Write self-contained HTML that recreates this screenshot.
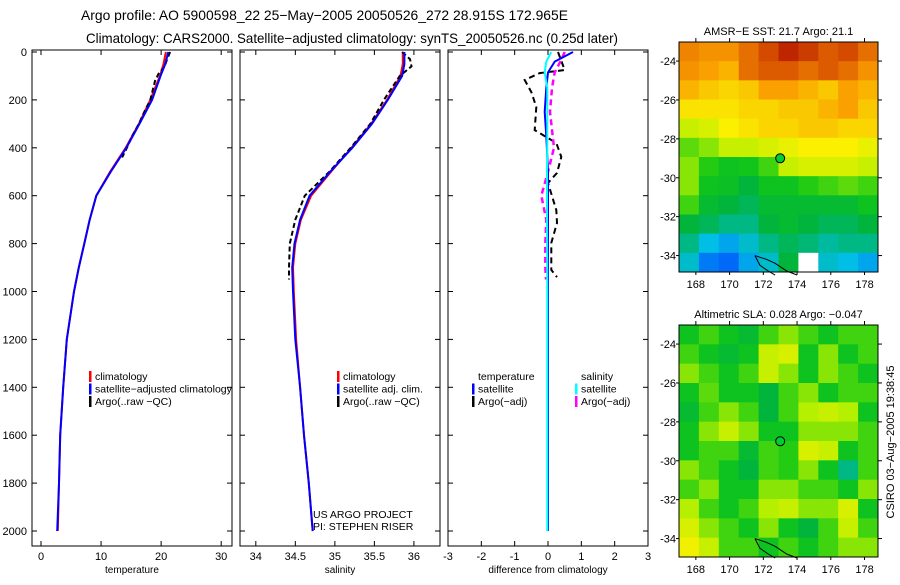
<!DOCTYPE html>
<html><head><meta charset="utf-8"><style>
body{margin:0;background:#fff;width:900px;height:580px;overflow:hidden}
svg{font-family:"Liberation Sans",sans-serif}
</style></head><body>
<svg id="c" width="900" height="580" xmlns="http://www.w3.org/2000/svg">
<text x="81" y="20" font-size="14" textLength="487" lengthAdjust="spacingAndGlyphs">Argo profile: AO 5900598_22 25−May−2005 20050526_272 28.915S 172.965E</text>
<text x="86" y="43" font-size="14" textLength="532" lengthAdjust="spacingAndGlyphs">Climatology: CARS2000. Satellite−adjusted climatology: synTS_20050526.nc (0.25d later)</text>
</svg>
<script>
// ---- data ----
const depths=[0,50,100,200,300,400,500,600,700,800,900,1000,1200,1400,1600,1800,2000];
const tempSat=[21.2,20.7,19.9,18.5,16.4,14.2,11.6,9.2,8.1,7.2,6.3,5.5,4.3,3.7,3.2,3.0,2.7];
const tempClim=[20.8,20.4,19.8,18.2,16.3,14.1,11.5,9.2,8.1,7.2,6.3,5.5,4.3,3.7,3.2,3.0,2.8];
const argoDepths=[0,30,60,90,120,160,200,250,300,350,400,440];
const tempArgo=[21.5,21.0,20.6,19.6,19.0,18.6,18.2,17.2,16.3,15.2,14.3,13.5];
const salSat=[35.88,35.88,35.85,35.67,35.47,35.22,34.94,34.68,34.56,34.49,34.46,34.47,34.50,34.56,34.61,34.67,34.72];
const salClim=[35.86,35.86,35.83,35.66,35.46,35.21,34.95,34.70,34.57,34.50,34.47,34.48,34.51,34.56,34.61,34.67,34.72];
const salArgoDepths=[0,30,60,100,200,300,400,500,600,700,800,900,950];
const salArgo=[35.85,35.95,35.97,35.82,35.62,35.45,35.2,34.93,34.62,34.5,34.43,34.42,34.42];
const diffDepths=[0,40,85,150,250,350,500,700,1000,1500,2000];
const dTempSat=[0.75,0.2,0.0,-0.05,-0.1,-0.05,0,0,0,0,0];
const dSalSat=[0.1,-0.05,-0.1,-0.02,-0.02,-0.02,-0.03,-0.03,-0.02,-0.02,-0.02];
const dArgoDepths=[0,75,88,117,167,230,326,380,438,505,547,660,714,797,910,940];
const dTempArgo=[0.3,0.5,-0.25,-0.7,-0.5,-0.35,-0.4,0.25,0.4,0.27,0,0.25,0.27,0.1,0.1,0.27];
const dSalArgoDepths=[0,33,85,150,250,400,500,600,700,800,900,950];
const dSalArgo=[0.5,0.4,0.2,0.12,0.06,0.18,0.0,-0.2,-0.05,-0.08,-0.08,-0.06];
const tTicks=[0,10,20,30], sTicks=[34,34.5,35,35.5,36], dTicks=[-3,-2,-1,0,1,2,3];
const depthTicks=[0,200,400,600,800,1000,1200,1400,1600,1800,2000];
const latTicks=[-24,-26,-28,-30,-32,-34], lonTicks=[168,170,172,174,176,178];
const sstGrid=[
[.82,.8,.8,.85,.9,.95,.92,.88,.9,.85],
[.8,.78,.75,.85,.88,.88,.85,.88,.85,.8],
[.75,.72,.7,.72,.78,.78,.75,.72,.78,.75],
[.68,.68,.68,.7,.7,.72,.72,.75,.78,.72],
[.6,.62,.66,.68,.7,.7,.72,.72,.7,.7],
[.52,.55,.6,.6,.62,.64,.66,.66,.66,.64],
[.55,.48,.45,.46,.5,.6,.62,.62,.62,.6],
[.55,.45,.44,.4,.45,.45,.48,.5,.52,.5],
[.5,.42,.4,.38,.42,.42,.42,.42,.42,.45],
[.4,.38,.35,.35,.4,.42,.4,.38,.38,.4],
[.35,.28,.25,.3,.35,.38,.36,.33,.35,.35],
[.3,.2,.18,.25,.3,.4,-1,.3,.28,.25]];
const slaGrid=[
[.45,.5,.45,.42,.5,.55,.5,.45,.5,.5],
[.5,.45,.42,.45,.6,.62,.45,.55,.45,.5],
[.55,.5,.45,.5,.6,.55,.45,.55,.5,.45],
[.45,.52,.45,.45,.4,.5,.55,.45,.5,.5],
[.42,.5,.55,.5,.4,.5,.58,.6,.58,.45],
[.45,.55,.6,.55,.45,.45,.55,.55,.55,.5],
[.45,.5,.5,.42,.5,.48,.62,.6,.45,.5],
[.55,.5,.45,.4,.5,.48,.55,.45,.35,.5],
[.5,.55,.45,.45,.55,.55,.5,.5,.45,.55],
[.58,.5,.45,.5,.58,.6,.55,.55,.62,.45],
[.62,.55,.5,.45,.55,.45,.4,.5,.6,.5],
[.65,.6,.5,.5,.45,.5,.45,.5,.55,.55]];

const svg=document.getElementById('c');
const NS='http://www.w3.org/2000/svg';
function mk(t,a,p){const e=document.createElementNS(NS,t);for(const k in a)e.setAttribute(k,a[k]);(p||svg).appendChild(e);return e;}
const yD=d=>52+d*0.2395;
function panel(name,x0,x1,vmin,vmax){
  const g=mk('g',{});
  
  
  mk('rect',{x:x0,y:50,width:x1-x0,height:496,fill:'none',stroke:'#000','stroke-width':1},g);
  return {g,x:v=>x0+(v-vmin)/(vmax-vmin)*(x1-x0),x0,x1};
}
function line(p,vals,ds,color,dash,w,name){
  const pts=vals.map((v,i)=>p.x(v).toFixed(1)+','+yD(ds[i]).toFixed(1)).join(' ');
  const e=mk('polyline',{points:pts,fill:'none',stroke:color,'stroke-width':w||2,'stroke-dasharray':dash||'none'},p.g);
  
  
}
function axes(p,ticks,fmt,title,leftLabels){
  ticks.forEach(t=>{const X=p.x(t);
    mk('line',{x1:X,x2:X,y1:546,y2:541,stroke:'#000'},p.g);
    mk('line',{x1:X,x2:X,y1:50,y2:55,stroke:'#000'},p.g);
    const l=mk('text',{x:X,y:560,'font-size':11,'text-anchor':'middle'},p.g);l.textContent=fmt(t);
    
    
  });
  depthTicks.forEach(d=>{const Y=yD(d);
    mk('line',{x1:p.x0,x2:p.x0+5,y1:Y,y2:Y,stroke:'#000'},p.g);
    mk('line',{x1:p.x1,x2:p.x1-5,y1:Y,y2:Y,stroke:'#000'},p.g);
    if(leftLabels){const l=mk('text',{x:27,y:Y+4,'font-size':11,'text-anchor':'end'},p.g);l.textContent=d;
      
      }
  });
  const t=mk('text',{x:(p.x0+p.x1)/2,y:573,'font-size':10,'text-anchor':'middle'},p.g);t.textContent=title;
  
  
}
function legend(p,x,y,items){
  items.forEach((it,i)=>{
    if(it[0])mk('rect',{x:x,y:y+i*12.5-9,width:2.5,height:11,fill:it[0]},p.g);
    const t=mk('text',{x:x+6,y:y+i*12.5,'font-size':10.5},p.g);t.textContent=it[1];
    
    
  });
}
// panel 1 temperature
const p1=panel('temperature-panel',32,232,-1.5,31.8);
axes(p1,tTicks,v=>v,'temperature',true);
line(p1,tempClim,depths,'#f00',null,2,'climatology-temp-line');
line(p1,tempArgo,argoDepths,'#000','5,3',2,'argo-temp-line');
line(p1,tempSat,depths,'#00f',null,2,'satellite-temp-line');
legend(p1,89,380,[['#f00','climatology'],['#00f','satellite−adjusted climatology'],['#000','Argo(..raw −QC)']]);
// panel 2 salinity
const p2=panel('salinity-panel',240,440,33.8,36.33);
axes(p2,sTicks,v=>v,'salinity',false);
line(p2,salClim,depths,'#f00',null,2,'climatology-sal-line');
line(p2,salArgo,salArgoDepths,'#000','5,3',2,'argo-sal-line');
line(p2,salSat,depths,'#00f',null,2,'satellite-sal-line');
legend(p2,337,380,[['#f00','climatology'],['#00f','satellite adj. clim.'],['#000','Argo(..raw −QC)']]);
const u1=mk('text',{x:313,y:518,'font-size':10.5});u1.textContent='US ARGO PROJECT';


const u2=mk('text',{x:313,y:530,'font-size':10.5});u2.textContent='PI: STEPHEN RISER';


// panel 3 difference
const p3=panel('difference-panel',448,648,-3,3);
axes(p3,dTicks,v=>v,'difference from climatology',false);
line(p3,dTempArgo,dArgoDepths,'#000','6,4',2,'argo-temp-diff-line');
line(p3,dSalArgo,dSalArgoDepths,'#f0f','6,4',2.5,'argo-sal-diff-line');
line(p3,dTempSat,diffDepths,'#00f',null,2,'satellite-temp-diff-line');
line(p3,dSalSat,diffDepths,'#0ff',null,2,'satellite-sal-diff-line');
legend(p3,472,380,[[null,'temperature'],['#00f','satellite'],['#000','Argo(−adj)']]);
legend(p3,575,380,[[null,'salinity'],['#0ff','satellite'],['#f0f','Argo(−adj)']]);
// colormap
function cmap(v){
  if(v<0)return '#fff';
  const st=[[0,[0,0,200]],[0.15,[0,80,255]],[0.28,[0,190,230]],[0.4,[0,180,60]],[0.47,[20,200,20]],[0.58,[180,240,0]],[0.66,[250,240,0]],[0.78,[250,160,0]],[0.88,[220,90,0]],[1,[170,0,0]]];
  for(let i=1;i<st.length;i++){if(v<=st[i][0]){const a=st[i-1],b=st[i],f=(v-a[0])/(b[0]-a[0]);
    return 'rgb('+a[1].map((c,j)=>Math.round(c+(b[1][j]-c)*f)).join(',')+')';}}
  return 'rgb(170,0,0)';
}
function mapPanel(name,top,bottom,grid,title){
  const g=mk('g',{});
  
  
  const L=679,R=878,lonL=167,lonR=178.8;
  const latT=-23.02,latB=-23.02-(bottom-top)/19.45;
  const xl=lo=>L+(lo-lonL)/(lonR-lonL)*(R-L);
  const yl=la=>top+(latT-la)/(latT-latB)*(bottom-top);
  const rows=grid.length,cols=grid[0].length,cw=(R-L)/cols,ch=(bottom-top)/rows;
  grid.forEach((row,r)=>row.forEach((v,c)=>{
    const e=mk('rect',{x:L+c*cw,y:top+r*ch,width:cw+0.5,height:ch+0.5,fill:cmap(v)},g);
    
    
  }));
  mk('path',{d:`M${xl(171.5)},${yl(-34)} L${xl(172.2)},${yl(-34.2)} L${xl(172.7)},${yl(-34.4)} L${xl(173.4)},${yl(-34.8)} L${xl(174)},${yl(-35)} M${xl(171.5)},${yl(-34)} L${xl(171.8)},${yl(-34.5)} L${xl(172.3)},${yl(-34.8)} L${xl(172.7)},${yl(-35)}`,fill:'none',stroke:'#000','stroke-width':1},g);
  mk('rect',{x:L,y:top,width:R-L,height:bottom-top,fill:'none',stroke:'#000'},g);
  const cir=mk('circle',{cx:xl(173),cy:yl(-29),r:4.5,fill:'#0c3',stroke:'#000'},g);
  
  
  latTicks.forEach(la=>{const Y=yl(la);
    mk('line',{x1:R,x2:R+4,y1:Y,y2:Y,stroke:'#000'},g);
    mk('line',{x1:L,x2:L-3,y1:Y,y2:Y,stroke:'#000'},g);
    const t=mk('text',{x:L-3,y:Y+4,'font-size':11,'text-anchor':'end'},g);t.textContent=la;
    
    });
  lonTicks.forEach(lo=>{const X=xl(lo);
    mk('line',{x1:X,x2:X,y1:top,y2:top-4,stroke:'#000'},g);
    mk('line',{x1:X,x2:X,y1:bottom,y2:bottom+3,stroke:'#000'},g);
    const t=mk('text',{x:X,y:bottom+16,'font-size':11,'text-anchor':'middle'},g);t.textContent=lo;
    
    });
  const t=mk('text',{x:(L+R)/2,y:top-7,'font-size':11,'text-anchor':'middle'},g);t.textContent=title;
  
  
}
mapPanel('sst-map',42,272,sstGrid,'AMSR−E SST: 21.7 Argo: 21.1');
mapPanel('sla-map',325,557,slaGrid,'Altimetric SLA: 0.028 Argo: −0.047');
const cs=mk('text',{x:0,y:0,'font-size':11,'text-anchor':'middle',transform:'translate(894,442) rotate(-90)'});
cs.textContent='CSIRO 03−Aug−2005 19:38:45';


</script>
</body></html>
